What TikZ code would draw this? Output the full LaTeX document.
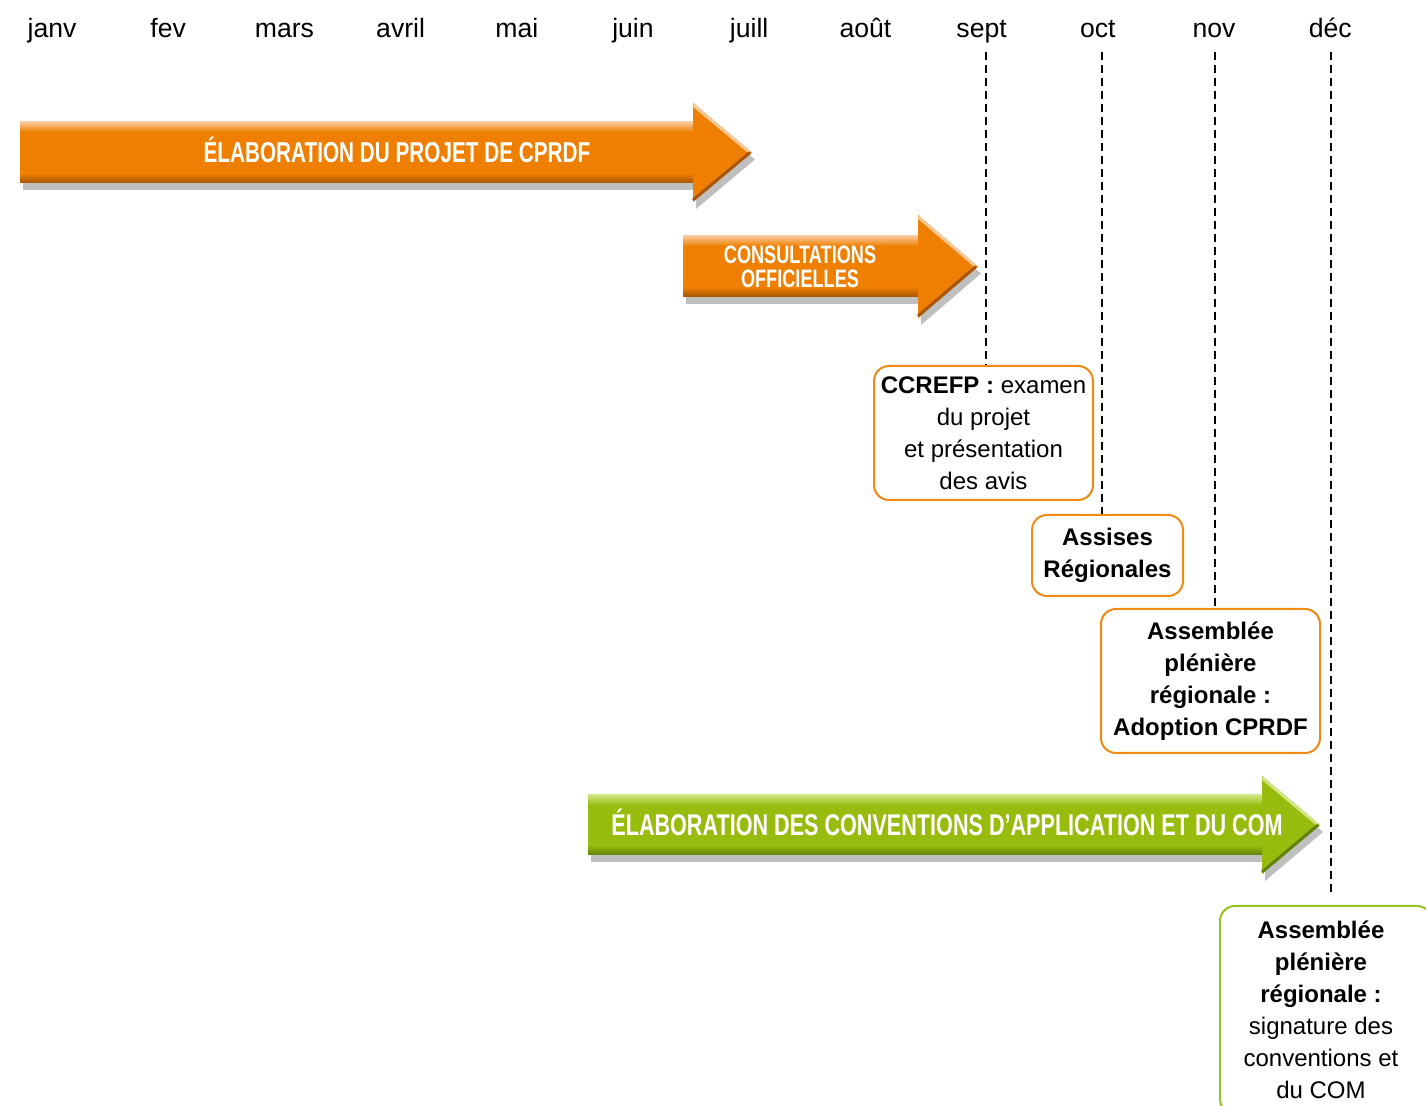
\documentclass[tikz,border=0pt]{standalone}
\usepackage{fontspec}
\setmainfont{Liberation Sans}
\newfontfamily\arrowfont[FakeStretch=0.72]{Liberation Sans Bold}
\usepackage{tikz}

\definecolor{cporange}{RGB}{238,127,0}
\definecolor{cporangelight}{RGB}{250,200,150}
\definecolor{cporangedark}{RGB}{168,86,5}
\definecolor{cpgreen}{RGB}{152,188,14}
\definecolor{cpgreenlight}{RGB}{208,228,130}
\definecolor{cpgreendark}{RGB}{98,128,10}
\definecolor{boxorange}{RGB}{240,138,20}
\definecolor{boxgreen}{RGB}{150,195,30}

% phase arrow: #1 colour, #2 light, #3 dark, #4 x start, #5 x body end,
% #6 x tip, #7 y body top, #8 y body bottom, #9 head overhang
\newcommand{\phasearrow}[9]{%
    \fill[black!45, opacity=.55, shift={(3,7)}] (#4,#7) -- (#5,#7) -- (#5,{#7-#9})
        -- (#6,{(#7+#8)/2}) -- (#5,{#8+#9}) -- (#5,#8) -- (#4,#8) -- cycle;
    \fill[#1] (#4,#7) -- (#5,#7) -- (#5,{#7-#9})
        -- (#6,{(#7+#8)/2}) -- (#5,{#8+#9}) -- (#5,#8) -- (#4,#8) -- cycle;
    \shade[top color=#2, bottom color=#1] (#4,#7) rectangle (#5,{#7+10});
    \shade[top color=#1, bottom color=#3] (#4,{#8-10}) rectangle (#5,#8);
    \draw[#2, line width=1.5pt] (#5,{#7-#9+2}) -- ({#6-2},{(#7+#8)/2});
    \draw[#3, line width=1.5pt] ({#6-2},{(#7+#8)/2}) -- (#5,{#8+#9-2});
}

\begin{document}
\begin{tikzpicture}[
    x=0.5pt, y=-0.5pt,
    month/.style={anchor=base, font=\fontsize{13.3}{16}\selectfont},
    phasetext/.style={text=white, align=center},
    evbox/.style={draw=boxorange, line width=1pt, rounded corners=7.5pt, fill=white,
        align=center, inner sep=2pt, font=\fontsize{12}{16}\selectfont},
    guide/.style={line width=1.2pt, dash pattern=on 4pt off 2.5pt},
]
    \clip (0,0) rectangle (1426,1106);
    \fill[white] (0,0) rectangle (1426,1106);

    % Months
    \foreach \m [count=\i from 0] in {janv,fev,mars,avril,mai,juin,juill,août,sept,oct,nov,déc} {
        \node[month] (m\i) at ({52+116.2*\i},38) {\m};
    }

    % Phases
    \phasearrow{cporange}{cporangelight}{cporangedark}{20}{693}{752}{122}{183}{19}
    \node[phasetext, anchor=base, font=\arrowfont\fontsize{14.4}{16}\selectfont]
        (projet) at (397,163) {ÉLABORATION DU PROJET DE CPRDF};

    \phasearrow{cporange}{cporangelight}{cporangedark}{683}{918}{978}{236}{297}{21}
    \node[phasetext, font=\arrowfont\fontsize{12.6}{12}\selectfont]
        (consult) at (800,267) {CONSULTATIONS\\OFFICIELLES};

    \phasearrow{cpgreen}{cpgreenlight}{cpgreendark}{588}{1262}{1320}{795}{855}{19}
    \node[phasetext, anchor=base, font=\arrowfont\fontsize{15}{16}\selectfont]
        (conv) at (947,836) {ÉLABORATION DES CONVENTIONS D’APPLICATION ET DU COM};

    % Events
    \node[evbox, anchor=north west, minimum width=109.5pt, minimum height=67pt]
        (ccrefp) at (873,365) {\textbf{CCREFP :} examen\\du projet\\et présentation\\des avis};
    \node[evbox, anchor=north west, minimum width=75.5pt, minimum height=40.5pt,
        font=\fontsize{12}{16}\selectfont\bfseries]
        (assises) at (1031,514) {Assises\\Régionales};
    \node[evbox, anchor=north west, minimum width=109.5pt, minimum height=72pt,
        font=\fontsize{12}{16}\selectfont\bfseries]
        (apadopt) at (1100,608) {Assemblée\\plénière\\régionale :\\Adoption CPRDF};
    \node[evbox, draw=boxgreen, anchor=north west, minimum height=104pt]
        (apsign) at (1219,905) {\parbox{97pt}{\centering\textbf{Assemblée}\\\textbf{plénière}\\
        \textbf{régionale :}\\signature des\\conventions et\\du COM}\hspace*{5pt}};

    % Guides
    \foreach \x/\b/\s [count=\k] in {986/ccrefp/0pt,1102/assises/0pt,1215/apadopt/0pt,1331/apsign/5pt} {
        \coordinate (g\k) at (\x,52);
        \draw[guide, shorten >=\s] (g\k) -- (g\k |- \b.north);
    }
\end{tikzpicture}
\end{document}
